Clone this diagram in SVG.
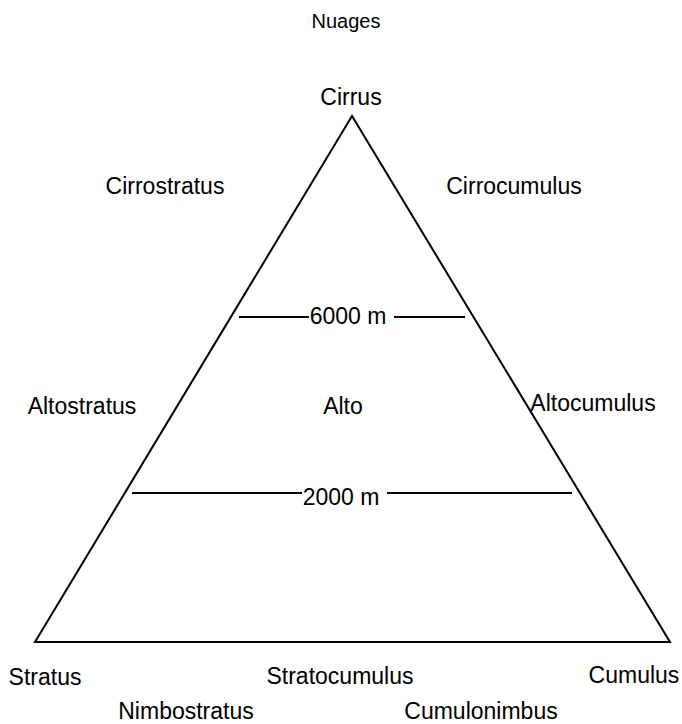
<svg xmlns="http://www.w3.org/2000/svg" width="682" height="724" viewBox="0 0 682 724">
<style>
text{font-family:"Liberation Sans",Arial,sans-serif;font-size:23px;fill:#000;text-anchor:middle}
.ln{stroke:#000;stroke-width:2;fill:none}
</style>
<rect width="682" height="724" fill="#fff"/>
<g id="triangle"><polygon class="ln" points="352,116 35,642 670,642"/></g>
<g id="connectors">
<line class="ln" x1="239" y1="317" x2="309" y2="317"/>
<line class="ln" x1="394" y1="317" x2="465" y2="317"/>
<line class="ln" x1="132" y1="493" x2="302" y2="493"/>
<line class="ln" x1="387" y1="493" x2="572" y2="493"/>
</g>
<g id="title"><text x="346" y="28" style="font-size:20px">Nuages</text></g>
<g id="cirrus"><text x="351" y="105">Cirrus</text></g>
<g id="cirrostratus"><text x="165" y="194">Cirrostratus</text></g>
<g id="cirrocumulus"><text x="514" y="194">Cirrocumulus</text></g>
<g id="h6000"><text x="348" y="324">6000 m</text></g>
<g id="altostratus"><text x="82" y="414">Altostratus</text></g>
<g id="alto"><text x="343" y="414">Alto</text></g>
<g id="altocumulus"><text x="593" y="411">Altocumulus</text></g>
<g id="h2000"><text x="341" y="505">2000 m</text></g>
<g id="stratus"><text x="45" y="685">Stratus</text></g>
<g id="stratocumulus"><text x="340" y="684">Stratocumulus</text></g>
<g id="cumulus"><text x="634" y="683">Cumulus</text></g>
<g id="nimbostratus"><text x="186" y="719">Nimbostratus</text></g>
<g id="cumulonimbus"><text x="481" y="719">Cumulonimbus</text></g>
</svg>
